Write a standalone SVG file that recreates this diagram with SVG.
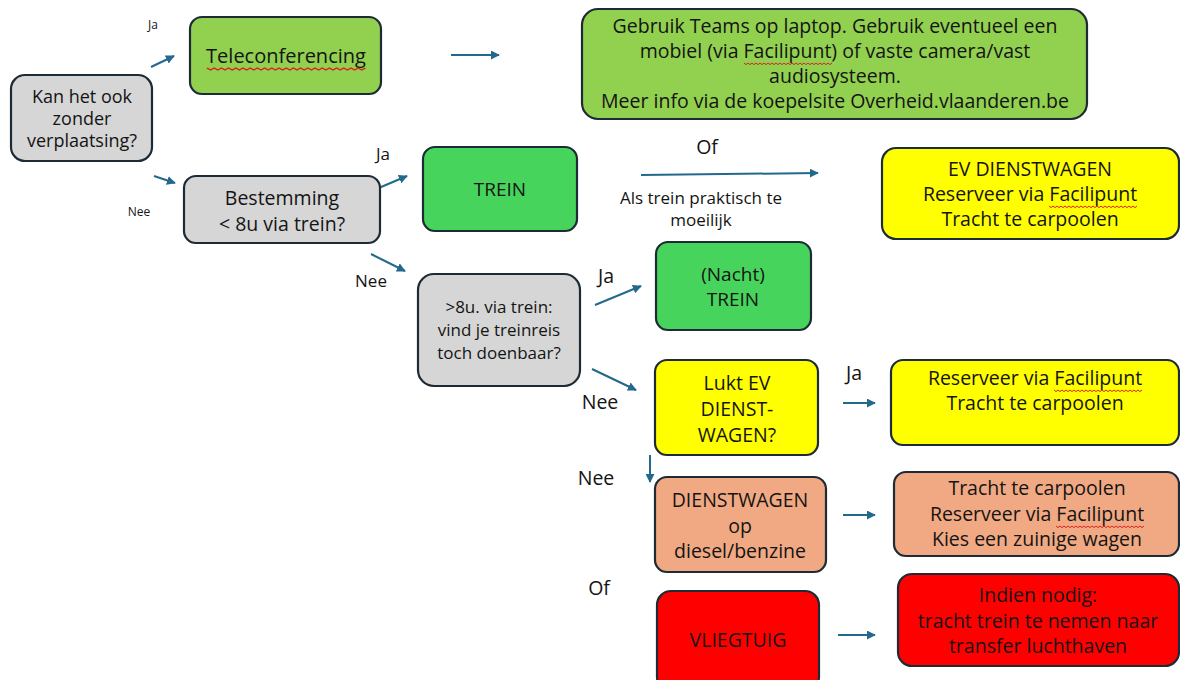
<svg xmlns="http://www.w3.org/2000/svg" width="1180" height="680" viewBox="0 0 1180 680">
<style>
.box{stroke:#1d2b36;stroke-width:2.2}
.gray{fill:#d6d6d6}
.lg{fill:#92d050}
.dg{fill:#47d45c}
.ye{fill:#ffff00}
.sa{fill:#f1a983}
.rd{fill:#ff0000}
text{font-family:"Open Sans","Liberation Sans",sans-serif;fill:#141414;text-anchor:middle}
.t{font-size:19.5px}
.k{font-size:18px}
.s{font-size:12px}
.m{font-size:17px}
.c{stroke:#23698c;stroke-width:2;fill:none;marker-end:url(#ah)}
.sq{stroke:#d22;stroke-width:1;fill:none}
</style>
<defs>
<marker id="ah" viewBox="0 0 10 10" refX="9" refY="5" markerWidth="4.5" markerHeight="4.5" orient="auto">
<path d="M0,0 L10,5 L0,10 z" fill="#23698c"/>
</marker>
<path id="squig" class="sq" d="M0,0 l2,1.6 2,-1.6 2,1.6 2,-1.6 2,1.6 2,-1.6 2,1.6 2,-1.6 2,1.6 2,-1.6 2,1.6 2,-1.6 2,1.6 2,-1.6 2,1.6 2,-1.6 2,1.6 2,-1.6 2,1.6 2,-1.6 2,1.6 2,-1.6 2,1.6 2,-1.6 2,1.6 2,-1.6 2,1.6 2,-1.6 2,1.6 2,-1.6 2,1.6 2,-1.6 2,1.6 2,-1.6 2,1.6 2,-1.6 2,1.6 2,-1.6 2,1.6 2,-1.6 2,1.6 2,-1.6 2,1.6 2,-1.6"/>
</defs>
<rect width="1180" height="680" fill="#ffffff"/>
<g id="connectors">
<line class="c" x1="151" y1="67" x2="174" y2="56"/>
<line class="c" x1="451" y1="55" x2="499" y2="55"/>
<line class="c" x1="154" y1="176" x2="175" y2="183"/>
<line class="c" x1="374" y1="190" x2="407" y2="176"/>
<line class="c" x1="641" y1="175" x2="818" y2="173"/>
<line class="c" x1="371" y1="254" x2="405" y2="271"/>
<line class="c" x1="595" y1="305" x2="641" y2="286"/>
<line class="c" x1="592" y1="369" x2="636" y2="390"/>
<line class="c" x1="843" y1="403" x2="875" y2="403"/>
<line class="c" x1="650" y1="455" x2="650" y2="482"/>
<line class="c" x1="843" y1="515" x2="875" y2="515"/>
<line class="c" x1="838" y1="635" x2="875" y2="635"/>
</g>
<g id="labels">
<text class="s" x="153" y="29">Ja</text>
<text class="s" x="139" y="216">Nee</text>
<text class="m" x="383" y="160">Ja</text>
<text class="m" x="371" y="287">Nee</text>
<text class="t" x="707" y="154">Of</text>
<text class="m" x="701" y="204">Als trein praktisch te</text>
<text class="m" x="701" y="226">moeilijk</text>
<text class="t" x="606" y="283">Ja</text>
<text class="t" x="600" y="409">Nee</text>
<text class="t" x="854" y="380">Ja</text>
<text class="t" x="596" y="485">Nee</text>
<text class="t" x="599" y="595">Of</text>
</g>
<g id="n-vraag1">
<rect class="box gray" x="11" y="75" width="141" height="86" rx="14"/>
<text class="k" x="82" y="103">Kan het ook</text>
<text class="k" x="82" y="125">zonder</text>
<text class="k" x="82" y="147">verplaatsing?</text>
</g>
<g id="n-tele">
<rect class="box lg" x="190" y="17" width="191" height="77" rx="12"/>
<text x="286" y="63" style="font-size:20px">Teleconferencing</text>
<use href="#squig" transform="translate(207,68) scale(1.8,1.2)"/>
</g>
<g id="n-teams">
<rect class="box lg" x="582" y="9" width="505" height="110" rx="16"/>
<text class="t" x="835" y="33">Gebruik Teams op laptop. Gebruik eventueel een</text>
<text class="t" x="835" y="58">mobiel (via Facilipunt) of vaste camera/vast</text>
<text class="t" x="835" y="83">audiosysteem.</text>
<text class="t" x="835" y="108">Meer info via de koepelsite Overheid.vlaanderen.be</text>
<use href="#squig" transform="translate(744,63)"/>
</g>
<g id="n-bestemming">
<rect class="box gray" x="184" y="176" width="196" height="67" rx="12"/>
<text class="t" x="282" y="205">Bestemming</text>
<text class="t" x="282" y="231">&lt; 8u via trein?</text>
</g>
<g id="n-trein">
<rect class="box dg" x="423" y="147" width="154" height="84" rx="12"/>
<text x="500" y="196" style="font-size:19px">TREIN</text>
</g>
<g id="n-ev">
<rect class="box ye" x="882" y="148" width="297" height="91" rx="14"/>
<text class="t" x="1030" y="176">EV DIENSTWAGEN</text>
<text class="t" x="1030" y="201">Reserveer via Facilipunt</text>
<text class="t" x="1030" y="226">Tracht te carpoolen</text>
<use href="#squig" transform="translate(1049,206)"/>
</g>
<g id="n-vraag3">
<rect class="box gray" x="418" y="274" width="162" height="112" rx="16"/>
<text class="m" x="499" y="313">&gt;8u. via trein:</text>
<text class="m" x="499" y="336">vind je treinreis</text>
<text class="m" x="499" y="359">toch doenbaar?</text>
</g>
<g id="n-nacht">
<rect class="box dg" x="656" y="242" width="155" height="88" rx="12"/>
<text x="733" y="281" style="font-size:19px">(Nacht)</text>
<text x="733" y="306" style="font-size:19px">TREIN</text>
</g>
<g id="n-lukt">
<rect class="box ye" x="655" y="360" width="163" height="95" rx="12"/>
<text class="t" x="737" y="390">Lukt EV</text>
<text class="t" x="737" y="416">DIENST-</text>
<text class="t" x="737" y="442">WAGEN?</text>
</g>
<g id="n-ev2">
<rect class="box ye" x="891" y="360" width="288" height="85" rx="12"/>
<text class="t" x="1035" y="385">Reserveer via Facilipunt</text>
<text class="t" x="1035" y="410">Tracht te carpoolen</text>
<use href="#squig" transform="translate(1054,390)"/>
</g>
<g id="n-diesel">
<rect class="box sa" x="655" y="477" width="171" height="95" rx="12"/>
<text class="t" x="740" y="507">DIENSTWAGEN</text>
<text class="t" x="740" y="533">op</text>
<text class="t" x="740" y="558">diesel/benzine</text>
</g>
<g id="n-diesel2">
<rect class="box sa" x="894" y="472" width="285" height="84" rx="12"/>
<text class="t" x="1037" y="495">Tracht te carpoolen</text>
<text class="t" x="1037" y="521">Reserveer via Facilipunt</text>
<text class="t" x="1037" y="546">Kies een zuinige wagen</text>
<use href="#squig" transform="translate(1056,526)"/>
</g>
<g id="n-vlieg">
<rect class="box rd" x="657" y="591" width="162" height="100" rx="14"/>
<text class="t" x="738" y="647">VLIEGTUIG</text>
</g>
<g id="n-vlieg2">
<rect class="box rd" x="898" y="574" width="281" height="92" rx="14"/>
<text class="t" x="1038" y="602">Indien nodig:</text>
<text class="t" x="1038" y="628">tracht trein te nemen naar</text>
<text class="t" x="1038" y="653">transfer luchthaven</text>
</g>
</svg>
